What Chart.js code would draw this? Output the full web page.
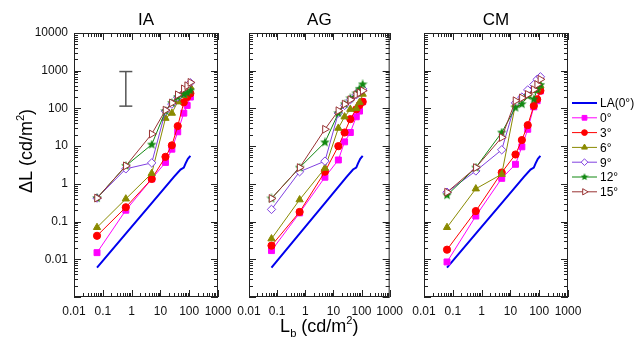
<!DOCTYPE html>
<html>
<head>
<meta charset="utf-8">
<script src="https://cdn.jsdelivr.net/npm/chart.js@4.4.0/dist/chart.umd.min.js"></script>
<style>
  body { margin: 0; background: #fff; }
  #wrap { position: relative; width: 641px; height: 344px; overflow: hidden; }
  canvas { position: absolute; top: 0; }
</style>
</head>
<body>
<div id="wrap">
  <canvas id="cIA" style="left:0px" width="240" height="344"></canvas>
  <canvas id="cAG" style="left:225px" width="185" height="344"></canvas>
  <canvas id="cCM" style="left:405px" width="236" height="344"></canvas>
</div>
<script>
// luminanze di sfondo (cd/m2)
const lb = [0.063, 0.63, 5, 15, 25, 40, 65, 85, 110];

// curva LA(0°)
const laX = [0.063, 0.63, 5, 15, 30, 50, 65, 75, 90, 110];
const laY = [0.006, 0.048, 0.31, 0.83, 1.55, 2.4, 2.7, 3.5, 4.6, 5.5];

// IA
const ia0 = [0.015, 0.2, 1.35, 3.7, 8.3, 24, 75, 120, 200];
const ia3 = [0.042, 0.24, 1.35, 5.2, 10.5, 34, 145, 200, 250];
const ia6 = [0.07, 0.4, 1.9, 55, 75, 150, 220, 280, 370];
const ia9 = [0.42, 2.5, 3.6, 85, 130, 200, 260, 340, 480];
const ia12 = [0.42, 3.0, 11, 85, 140, 200, 240, 260, 300];
const ia15 = [0.42, 3.0, 21, 90, 140, 230, 330, 400, 490];

// AG
const ag0 = [0.017, 0.17, 1.5, 4.3, 13, 23, 60, 85, 150];
const ag3 = [0.023, 0.18, 2.1, 10, 23, 52, 95, 123, 150];
const ag6 = [0.035, 0.38, 2.6, 30, 60, 95, 100, 145, 240];
const ag9 = [0.21, 2.1, 4, 75, 120, 170, 230, 300, 330];
const ag12 = [0.41, 2.7, 12.6, 75, 130, 185, 250, 330, 435];
const ag15 = [0.41, 2.7, 28, 87, 130, 170, 230, 260, 295];

// CM
const cm0 = [0.0085, 0.14, 1.4, 3.3, 9.6, 28, 110, 160, 290];
const cm3 = [0.018, 0.19, 2.0, 6, 14.5, 36, 117, 175, 295];
const cm6 = [0.07, 0.74, 1.8, 130, 190, 240, 300, 330, 400];
const cm9 = [0.6, 2.2, 8, 140, 200, 310, 430, 590, 690];
const cm12 = [0.5, 2.7, 23, 105, 130, 215, 175, 315, 420];
const cm15 = [0.6, 2.7, 17, 160, 190, 235, 315, 430, 590];

// barra d'errore nel pannello IA
const errX = 0.63;
const errLow = 115;
const errHigh = 950;

const angoli = ['0°', '3°', '6°', '9°', '12°', '15°'];
const titoli = ['IA', 'AG', 'CM'];
const xTicks = [0.01, 0.1, 1, 10, 100, 1000];
const xTickLabels = ['0.01', '0.1', '1', '10', '100', '1000'];
const yTicks = [0.01, 0.1, 1, 10, 100, 1000, 10000];
const yTickLabels = ['0.01', '0.1', '1', '10', '100', '1000', '10000'];

const FONT = "'Liberation Sans', Arial, sans-serif";

function stella(size, color) {
    const c = document.createElement('canvas');
    c.width = size; c.height = size;
    const g = c.getContext('2d');
    g.fillStyle = color;
    g.beginPath();
    for (let i = 0; i < 10; i++) {
        const r = i % 2 === 0 ? size / 2 : size / 4.6;
        const a = -Math.PI / 2 + i * Math.PI / 5;
        g.lineTo(size / 2 + r * Math.cos(a), size / 2 + r * Math.sin(a));
    }
    g.closePath();
    g.fill();
    return c;
}

const stili = [
    { colore: '#ff00ff', fill: '#ff00ff', punto: 'rect', r: 4.2, rot: 0 },
    { colore: '#ff0000', fill: '#ff0000', punto: 'circle', r: 3.6, rot: 0 },
    { colore: '#8a8a00', fill: '#8a8a00', punto: 'triangle', r: 4.2, rot: 0 },
    { colore: '#8040e0', fill: '#ffffff', punto: 'rectRot', r: 4.2, rot: 0 },
    { colore: '#118811', fill: '#118811', punto: stella(10, '#118811'), r: 4, rot: 0 },
    { colore: '#993333', fill: '#ffffff', punto: 'triangle', r: 4.5, rot: 90 }
];
const stellaPiccola = stella(8, '#118811');

function punti(xs, ys) {
    return xs.map((x, i) => ({ x: x, y: ys[i] }));
}

function creaDatasets(serie, conErrore) {
    const ds = [];
    for (let i = serie.length - 1; i >= 0; i--) {
        const s = stili[i];
        ds.push({
            label: angoli[i],
            data: punti(lb, serie[i]),
            borderColor: s.colore,
            backgroundColor: s.fill,
            borderWidth: 1,
            pointStyle: s.punto,
            pointRadius: s.r,
            pointRotation: s.rot,
            pointBorderColor: s.colore,
            pointBackgroundColor: s.fill,
            pointBorderWidth: 1,
            tension: 0
        });
    }
    ds.push({
        label: 'LA(0°)',
        data: punti(laX, laY),
        borderColor: '#0000ee',
        borderWidth: 2,
        pointRadius: 0,
        tension: 0
    });
    if (conErrore) {
        ds.push({
            label: 'err',
            data: [{ x: errX, y: errLow }, { x: errX, y: errHigh }],
            borderColor: '#555',
            borderWidth: 1.5,
            pointStyle: 'line',
            pointRadius: 6.5,
            pointBorderColor: '#555',
            pointBorderWidth: 1.5
        });
    }
    return ds;
}

// cornice con tacche verso l'interno
const cornice = {
    id: 'cornice',
    afterDraw(chart) {
        const { ctx, chartArea: a, scales } = chart;
        const sx = scales.x, sy = scales.y;
        ctx.save();
        ctx.strokeStyle = '#222';
        ctx.lineWidth = 1;
        ctx.strokeRect(a.left + 0.5, a.top + 0.5, a.right - a.left - 1, a.bottom - a.top - 1);
        ctx.beginPath();
        for (let e = -2; e <= 3; e++) {
            for (let k = 1; k < 10; k++) {
                const v = k * Math.pow(10, e);
                if (v > 1000.001) break;
                const px = Math.round(sx.getPixelForValue(v)) + 0.5;
                const len = k === 1 ? 7 : 4;
                ctx.moveTo(px, a.bottom); ctx.lineTo(px, a.bottom - len);
                ctx.moveTo(px, a.top); ctx.lineTo(px, a.top + len);
            }
        }
        for (let e = -3; e <= 4; e++) {
            for (let k = 1; k < 10; k++) {
                const v = k * Math.pow(10, e);
                if (v > 10000.001) break;
                const py = Math.round(sy.getPixelForValue(v)) + 0.5;
                const len = k === 1 ? 7 : 4;
                ctx.moveTo(a.left, py); ctx.lineTo(a.left + len, py);
                ctx.moveTo(a.right, py); ctx.lineTo(a.right - len, py);
            }
        }
        ctx.stroke();
        ctx.restore();
    }
};

// testo con apice / pedice
function testoComposto(ctx, pezzi, x, y, size) {
    let w = 0;
    pezzi.forEach(p => {
        ctx.font = (p.t === 'n' ? size : size * 0.62) + 'px ' + FONT;
        w += ctx.measureText(p.s).width;
    });
    let cx = x - w / 2;
    ctx.textAlign = 'left';
    ctx.textBaseline = 'alphabetic';
    pezzi.forEach(p => {
        ctx.font = (p.t === 'n' ? size : size * 0.62) + 'px ' + FONT;
        let dy = 0;
        if (p.t === 'sup') dy = -size * 0.42;
        if (p.t === 'sub') dy = size * 0.25;
        ctx.fillText(p.s, cx, y + dy);
        cx += ctx.measureText(p.s).width;
    });
}

const titoloY = {
    id: 'titoloY',
    afterDraw(chart) {
        const ctx = chart.ctx;
        ctx.save();
        ctx.fillStyle = '#000';
        ctx.translate(32, 151);
        ctx.rotate(-Math.PI / 2);
        testoComposto(ctx, [{ s: 'ΔL (cd/m', t: 'n' }, { s: '2', t: 'sup' }, { s: ')', t: 'n' }], 0, 0, 18);
        ctx.restore();
    }
};

const titoloX = {
    id: 'titoloX',
    afterDraw(chart) {
        const ctx = chart.ctx;
        const a = chart.chartArea;
        ctx.save();
        ctx.fillStyle = '#000';
        testoComposto(ctx, [{ s: 'L', t: 'n' }, { s: 'b', t: 'sub' }, { s: ' (cd/m', t: 'n' }, { s: '2', t: 'sup' }, { s: ')', t: 'n' }],
            (a.left + a.right) / 2, 332, 18);
        ctx.restore();
    }
};

const legenda = {
    id: 'legenda',
    afterDraw(chart) {
        const ctx = chart.ctx;
        const x0 = 167, x1 = 192, xm = 179.5;
        ctx.save();
        ctx.font = '12px ' + FONT;
        ctx.textBaseline = 'middle';
        ctx.textAlign = 'left';
        const voci = ['LA(0°)'].concat(angoli);
        voci.forEach((voce, i) => {
            const y = 103 + i * 14.8;
            let col = '#0000ee';
            if (i > 0) col = stili[i - 1].colore;
            ctx.strokeStyle = col;
            ctx.lineWidth = i === 0 ? 2 : 1;
            ctx.beginPath();
            ctx.moveTo(x0, y); ctx.lineTo(x1, y);
            ctx.stroke();
            if (i > 0) {
                const s = stili[i - 1];
                ctx.fillStyle = s.fill;
                ctx.lineWidth = 1;
                const stile = i === 5 ? stellaPiccola : s.punto;
                Chart.helpers.drawPoint(ctx, { pointStyle: stile, radius: s.r * 0.8, rotation: s.rot, borderWidth: 1 }, xm, y);
            }
            ctx.fillStyle = '#000';
            ctx.fillText(voce, x1 + 3, y + 1);
        });
        ctx.restore();
    }
};

function creaGrafico(id, titolo, serie, opz) {
    const ctx = document.getElementById(id).getContext('2d');
    return new Chart(ctx, {
        type: 'line',
        data: { datasets: creaDatasets(serie, opz.errore) },
        options: {
            responsive: false,
            animation: false,
            devicePixelRatio: 1,
            layout: { padding: { left: opz.padL, right: opz.padR, top: 0, bottom: 0 } },
            scales: {
                x: {
                    type: 'logarithmic',
                    min: 0.01,
                    max: 1000,
                    grid: { display: false, drawTicks: false },
                    border: { display: false },
                    afterBuildTicks: (axis) => { axis.ticks = xTicks.map(v => ({ value: v })); },
                    afterFit: (axis) => { axis.height = 47; },
                    ticks: {
                        autoSkip: false,
                        maxRotation: 0,
                        padding: 7,
                        color: '#111',
                        font: { family: FONT, size: 12 },
                        callback: (v, i) => xTickLabels[i]
                    }
                },
                y: {
                    type: 'logarithmic',
                    min: 0.001,
                    max: 10000,
                    display: opz.assey,
                    grid: { display: false, drawTicks: false },
                    border: { display: false },
                    afterBuildTicks: (axis) => { axis.ticks = yTicks.map(v => ({ value: v })); },
                    afterFit: (axis) => { axis.width = opz.assey ? 74 : 0; },
                    ticks: {
                        autoSkip: false,
                        padding: 6,
                        color: '#111',
                        font: { family: FONT, size: 12 },
                        callback: (v, i) => yTickLabels[i]
                    }
                }
            },
            plugins: {
                legend: { display: false },
                tooltip: { enabled: false },
                title: {
                    display: true,
                    text: titolo,
                    fullSize: false,
                    color: '#000',
                    font: { family: FONT, size: 17, weight: 'normal' },
                    padding: { top: 10, bottom: 2.6 }
                }
            }
        },
        plugins: [cornice].concat(opz.extra)
    });
}

creaGrafico('cIA', titoli[0], [ia0, ia3, ia6, ia9, ia12, ia15],
    { padL: 0, padR: 22, assey: true, errore: true, extra: [titoloY] });
creaGrafico('cAG', titoli[1], [ag0, ag3, ag6, ag9, ag12, ag15],
    { padL: 24, padR: 18, assey: false, errore: false, extra: [titoloX] });
creaGrafico('cCM', titoli[2], [cm0, cm3, cm6, cm9, cm12, cm15],
    { padL: 19, padR: 73, assey: false, errore: false, extra: [legenda] });
</script>
</body>
</html>
